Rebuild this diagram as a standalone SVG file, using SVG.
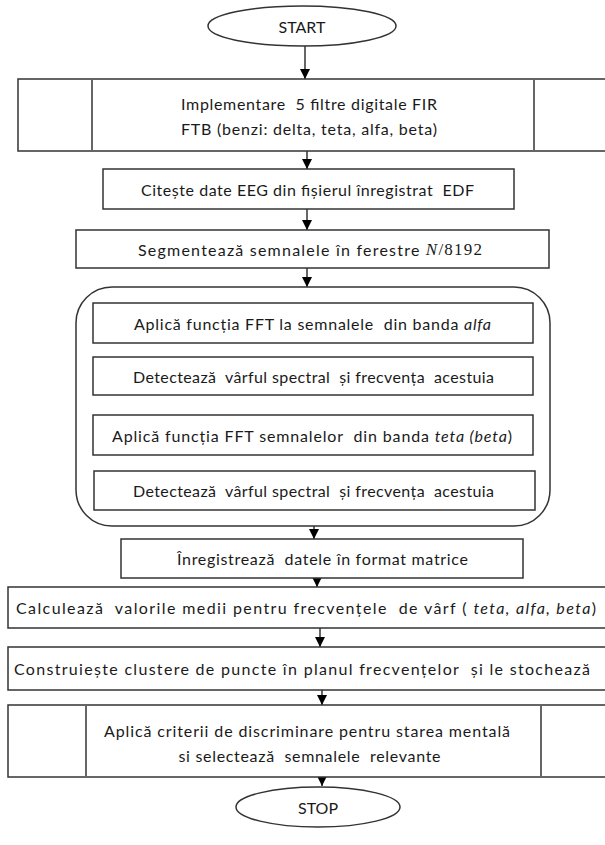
<svg xmlns="http://www.w3.org/2000/svg" width="605" height="845" viewBox="0 0 605 845">
<defs>
<style>
.s{fill:#fff;stroke:#333;stroke-width:1.5}
.v{stroke:#666;stroke-width:2}
.c{stroke:#000;stroke-width:1.2;fill:none}
text{font-family:Lato,"Open Sans","Liberation Sans",sans-serif;font-size:16px;fill:#1a1a1a;text-anchor:middle;dominant-baseline:central;white-space:pre}
.i{font-style:italic}
.m{font-family:"Liberation Serif","DejaVu Serif",serif;font-size:17px}
</style>
<marker id="a" viewBox="0 0 10 10" refX="10" refY="5" markerWidth="10" markerHeight="10" markerUnits="userSpaceOnUse" orient="auto"><path d="M0,0L10,5L0,10z" fill="#000"/></marker>
</defs>
<rect width="605" height="845" fill="#fff"/>
<g id="connectors">
<line class="c" x1="305" y1="46" x2="305" y2="79" marker-end="url(#a)"/>
<line class="c" x1="307" y1="151" x2="307" y2="169" marker-end="url(#a)"/>
<line class="c" x1="307" y1="209" x2="307" y2="230" marker-end="url(#a)"/>
<line class="c" x1="307" y1="268" x2="307" y2="287" marker-end="url(#a)"/>
<line class="c" x1="314" y1="526" x2="314" y2="539" marker-end="url(#a)"/>
<line class="c" x1="317" y1="578" x2="317" y2="587" marker-end="url(#a)"/>
<line class="c" x1="320" y1="628" x2="320" y2="647" marker-end="url(#a)"/>
<line class="c" x1="322" y1="690" x2="322" y2="705" marker-end="url(#a)"/>
<line class="c" x1="322" y1="777" x2="322" y2="786" marker-end="url(#a)"/>
</g>
<g id="start">
<ellipse class="s" cx="302" cy="26" rx="94" ry="20"/>
<text x="302" y="26">START</text>
</g>
<g id="n1">
<rect class="s" x="18" y="79" width="590" height="72"/>
<line class="v" x1="92" y1="79" x2="92" y2="151"/>
<line class="v" x1="534" y1="79" x2="534" y2="151"/>
<text x="309" y="103" textLength="256" lengthAdjust="spacing">Implementare  5 filtre digitale FIR</text>
<text x="309" y="128" textLength="256" lengthAdjust="spacing">FTB (benzi: delta, teta, alfa, beta)</text>
</g>
<g id="n2">
<rect class="s" x="103" y="169" width="411" height="40"/>
<text x="307.5" y="189" textLength="333" lengthAdjust="spacing">Citește date EEG din fișierul înregistrat  EDF</text>
</g>
<g id="n3">
<rect class="s" x="76" y="230" width="473" height="38"/>
<text x="310" y="249" textLength="344" lengthAdjust="spacing">Segmentează semnalele în ferestre <tspan class="m"><tspan class="i">N</tspan>/8192</tspan></text>
</g>
<g id="group">
<rect class="s" x="76" y="287" width="474" height="239" rx="36" ry="36"/>
</g>
<g id="n4">
<rect class="s" x="93" y="303" width="440" height="40"/>
<text x="312.5" y="323" textLength="357" lengthAdjust="spacing">Aplică funcția FFT la semnalele  din banda <tspan class="i">alfa</tspan></text>
</g>
<g id="n5">
<rect class="s" x="93" y="357" width="440" height="38"/>
<text x="313.5" y="376" textLength="361" lengthAdjust="spacing">Detectează  vârful spectral  și frecvența  acestuia</text>
</g>
<g id="n6">
<rect class="s" x="93" y="415" width="440" height="40"/>
<text x="312" y="435" textLength="400" lengthAdjust="spacing">Aplică funcția FFT semnalelor  din banda <tspan class="i">teta (beta</tspan>)</text>
</g>
<g id="n7">
<rect class="s" x="94" y="471" width="441" height="39"/>
<text x="313.5" y="490" textLength="361" lengthAdjust="spacing">Detectează  vârful spectral  și frecvența  acestuia</text>
</g>
<g id="n8">
<rect class="s" x="121" y="539" width="402" height="39"/>
<text x="322.5" y="558" textLength="291" lengthAdjust="spacing">Înregistrează  datele în format matrice</text>
</g>
<g id="n9">
<rect class="s" x="8" y="587" width="600" height="41"/>
<text x="306" y="607" textLength="580" lengthAdjust="spacing">Calculează  valorile medii pentru frecvențele  de vârf ( <tspan class="i">teta, alfa, beta</tspan>)</text>
</g>
<g id="n10">
<rect class="s" x="8" y="647" width="600" height="43"/>
<text x="302" y="668" textLength="576" lengthAdjust="spacing">Construiește clustere de puncte în planul frecvențelor  și le stochează</text>
</g>
<g id="n11">
<rect class="s" x="8" y="705" width="600" height="72"/>
<line class="v" x1="86" y1="705" x2="86" y2="777"/>
<line class="v" x1="541" y1="705" x2="541" y2="777"/>
<text x="307" y="730" textLength="406" lengthAdjust="spacing">Aplică criterii de discriminare pentru starea mentală</text>
<text x="309.5" y="755" textLength="262" lengthAdjust="spacing">si selectează  semnalele  relevante</text>
</g>
<g id="stop">
<ellipse class="s" cx="318" cy="807" rx="82" ry="20"/>
<text x="318" y="807">STOP</text>
</g>
</svg>
